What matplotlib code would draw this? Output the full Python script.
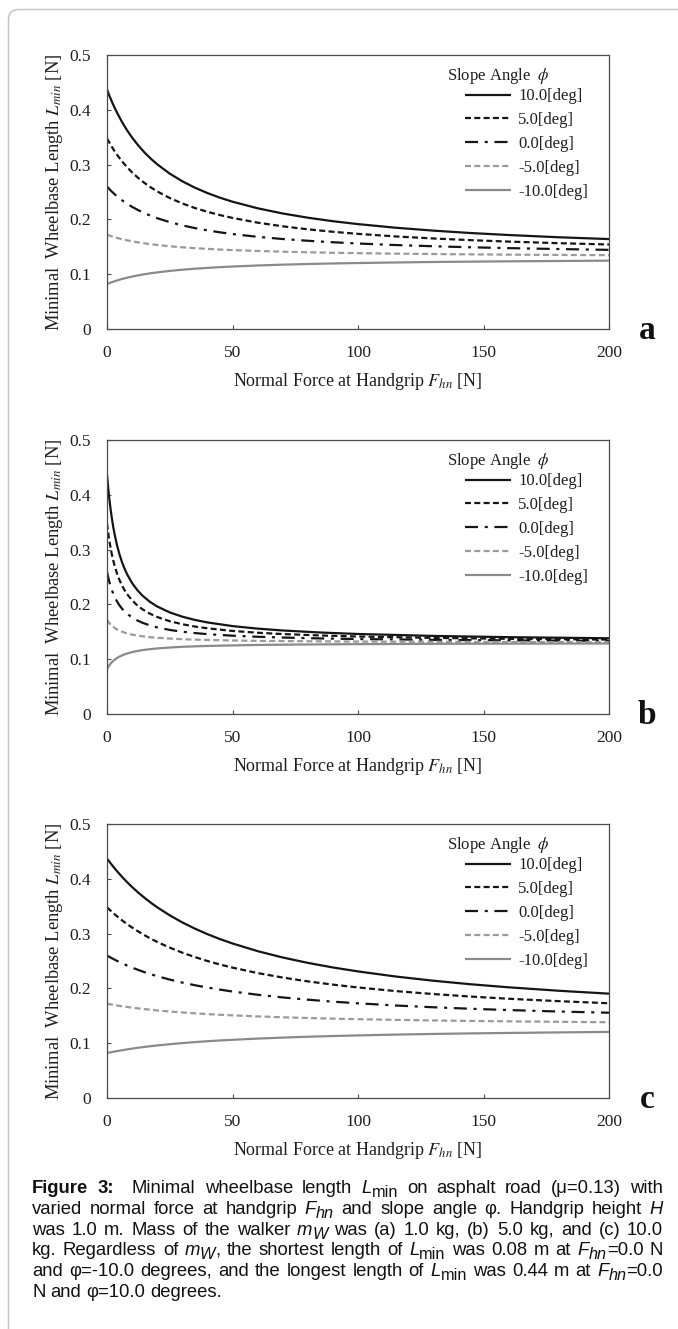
import re
import matplotlib
matplotlib.use("Agg")
import matplotlib.pyplot as plt
from matplotlib.patches import FancyBboxPatch
from matplotlib.transforms import IdentityTransform

plt.rcParams['font.family'] = ['Liberation Serif', 'DejaVu Serif']
plt.rcParams['mathtext.fontset'] = 'stix'
plt.rcParams['lines.scale_dashes'] = False

# ---------------- data ----------------
force_ac = [0, 1, 2, 3, 4, 6, 8, 10, 12.5, 15, 17.5, 20, 25, 30, 35, 40, 45, 50,
            60, 70, 80, 90, 100, 115, 130, 145, 160, 180, 200]
force_b = [0, 0.25, 0.5, 0.75, 1, 1.5, 2, 2.5, 3, 4, 5, 6, 7, 8, 10, 12, 14, 17,
           20, 25, 30, 35, 40, 50, 60, 70, 85, 100, 130, 160, 200]

# panel a  (m_w = 1.0 kg)
a_p10 = [0.4370, 0.4252, 0.4143, 0.4041, 0.3947, 0.3776, 0.3626, 0.3493, 0.3347, 0.3219,
         0.3106, 0.3006, 0.2835, 0.2696, 0.2579, 0.2481, 0.2396, 0.2323, 0.2203, 0.2108,
         0.2031, 0.1967, 0.1914, 0.1848, 0.1795, 0.1751, 0.1715, 0.1674, 0.1641]
a_p5 = [0.3480, 0.3396, 0.3319, 0.3246, 0.3179, 0.3058, 0.2952, 0.2857, 0.2753, 0.2663,
        0.2582, 0.2511, 0.2390, 0.2291, 0.2208, 0.2139, 0.2079, 0.2027, 0.1941, 0.1874,
        0.1819, 0.1774, 0.1736, 0.1689, 0.1652, 0.1621, 0.1595, 0.1566, 0.1542]
a_0 = [0.2600, 0.2550, 0.2504, 0.2461, 0.2421, 0.2348, 0.2285, 0.2229, 0.2167, 0.2113,
       0.2065, 0.2022, 0.1950, 0.1891, 0.1842, 0.1800, 0.1764, 0.1733, 0.1682, 0.1642,
       0.1610, 0.1583, 0.1560, 0.1532, 0.1510, 0.1491, 0.1476, 0.1459, 0.1444]
a_m5 = [0.1720, 0.1704, 0.1689, 0.1675, 0.1662, 0.1639, 0.1618, 0.1600, 0.1580, 0.1563,
        0.1547, 0.1533, 0.1510, 0.1491, 0.1475, 0.1462, 0.1450, 0.1440, 0.1424, 0.1411,
        0.1400, 0.1391, 0.1384, 0.1375, 0.1368, 0.1362, 0.1357, 0.1351, 0.1347]
a_m10 = [0.0820, 0.0838, 0.0856, 0.0871, 0.0886, 0.0913, 0.0936, 0.0957, 0.0980, 0.1000,
         0.1018, 0.1033, 0.1060, 0.1082, 0.1100, 0.1115, 0.1129, 0.1140, 0.1159, 0.1174,
         0.1186, 0.1196, 0.1204, 0.1214, 0.1223, 0.1229, 0.1235, 0.1241, 0.1247]

# panel b  (m_w = 5.0 kg)
b_p10 = [0.4370, 0.4237, 0.4114, 0.4002, 0.3898, 0.3712, 0.3551, 0.3411, 0.3287, 0.3077,
         0.2908, 0.2768, 0.2651, 0.2551, 0.2389, 0.2265, 0.2166, 0.2050, 0.1962, 0.1854,
         0.1776, 0.1717, 0.1671, 0.1604, 0.1558, 0.1524, 0.1487, 0.1460, 0.1425, 0.1402,
         0.1382]
b_p5 = [0.3480, 0.3385, 0.3298, 0.3218, 0.3145, 0.3013, 0.2899, 0.2799, 0.2711, 0.2562,
        0.2442, 0.2343, 0.2259, 0.2188, 0.2074, 0.1985, 0.1915, 0.1833, 0.1770, 0.1693,
        0.1638, 0.1596, 0.1564, 0.1516, 0.1483, 0.1459, 0.1433, 0.1414, 0.1389, 0.1372,
        0.1358]
b_0 = [0.2600, 0.2544, 0.2492, 0.2444, 0.2400, 0.2321, 0.2253, 0.2194, 0.2141, 0.2053,
       0.1981, 0.1922, 0.1872, 0.1830, 0.1761, 0.1709, 0.1667, 0.1618, 0.1580, 0.1534,
       0.1501, 0.1477, 0.1457, 0.1429, 0.1409, 0.1395, 0.1379, 0.1368, 0.1353, 0.1343,
       0.1335]
b_m5 = [0.1720, 0.1702, 0.1685, 0.1670, 0.1655, 0.1630, 0.1608, 0.1589, 0.1572, 0.1543,
        0.1520, 0.1501, 0.1485, 0.1471, 0.1449, 0.1432, 0.1419, 0.1403, 0.1391, 0.1376,
        0.1365, 0.1357, 0.1351, 0.1342, 0.1335, 0.1331, 0.1326, 0.1322, 0.1317, 0.1314,
        0.1311]
b_m10 = [0.0820, 0.0841, 0.0860, 0.0878, 0.0894, 0.0923, 0.0948, 0.0970, 0.0989, 0.1022,
         0.1049, 0.1070, 0.1089, 0.1104, 0.1130, 0.1149, 0.1165, 0.1183, 0.1196, 0.1213,
         0.1226, 0.1235, 0.1242, 0.1252, 0.1260, 0.1265, 0.1271, 0.1275, 0.1281, 0.1284,
         0.1287]

# panel c  (m_w = 10.0 kg)
c_p10 = [0.4370, 0.4309, 0.4250, 0.4193, 0.4138, 0.4035, 0.3939, 0.3850, 0.3746, 0.3651,
         0.3562, 0.3480, 0.3333, 0.3204, 0.3091, 0.2990, 0.2900, 0.2820, 0.2680, 0.2564,
         0.2466, 0.2382, 0.2310, 0.2217, 0.2140, 0.2075, 0.2020, 0.1957, 0.1904]
c_p5 = [0.3480, 0.3436, 0.3395, 0.3354, 0.3316, 0.3242, 0.3174, 0.3111, 0.3037, 0.2969,
        0.2906, 0.2848, 0.2744, 0.2652, 0.2572, 0.2500, 0.2436, 0.2379, 0.2280, 0.2198,
        0.2128, 0.2069, 0.2017, 0.1951, 0.1897, 0.1851, 0.1811, 0.1767, 0.1729]
c_0 = [0.2600, 0.2574, 0.2549, 0.2525, 0.2502, 0.2458, 0.2418, 0.2380, 0.2336, 0.2295,
       0.2258, 0.2223, 0.2161, 0.2106, 0.2058, 0.2016, 0.1978, 0.1943, 0.1884, 0.1835,
       0.1794, 0.1758, 0.1728, 0.1688, 0.1656, 0.1628, 0.1605, 0.1578, 0.1556]
c_m5 = [0.1720, 0.1712, 0.1704, 0.1696, 0.1688, 0.1674, 0.1661, 0.1649, 0.1635, 0.1622,
        0.1610, 0.1598, 0.1578, 0.1561, 0.1545, 0.1531, 0.1519, 0.1508, 0.1489, 0.1473,
        0.1460, 0.1448, 0.1438, 0.1426, 0.1415, 0.1406, 0.1399, 0.1390, 0.1383]
c_m10 = [0.0820, 0.0830, 0.0839, 0.0848, 0.0856, 0.0872, 0.0887, 0.0901, 0.0918, 0.0933,
         0.0946, 0.0959, 0.0982, 0.1002, 0.1020, 0.1036, 0.1050, 0.1062, 0.1084, 0.1102,
         0.1118, 0.1131, 0.1142, 0.1157, 0.1169, 0.1179, 0.1187, 0.1197, 0.1206]

series_labels = ["10.0[deg]", "5.0[deg]", "0.0[deg]", "-5.0[deg]", "-10.0[deg]"]
panel_letters = ["a", "b", "c"]
x_ticks = [0, 50, 100, 150, 200]
y_ticks = [0, 0.1, 0.2, 0.3, 0.4, 0.5]
y_tick_labels = ["0", "0.1", "0.2", "0.3", "0.4", "0.5"]

# caption markup: *x* = italic, _{..} = subscript, **..** words = bold
caption_lines = [
    "**Figure** **3:**  Minimal wheelbase length *L*_{min} on asphalt road (\u03bc=0.13) with",
    "varied normal force at handgrip *F*_{*hn*} and slope angle \u03c6. Handgrip height *H*",
    "was 1.0 m. Mass of the walker *m*_{*W*} was (a) 1.0 kg, (b) 5.0 kg, and (c) 10.0",
    "kg. Regardless of *m*_{*W*}, the shortest length of *L*_{min} was 0.08 m at *F*_{*hn*}=0.0 N",
    "and \u03c6=-10.0 degrees, and the longest length of *L*_{min} was 0.44 m at *F*_{*hn*}=0.0",
    "N and \u03c6=10.0 degrees.",
]

panels = [
    (force_ac, [a_p10, a_p5, a_0, a_m5, a_m10]),
    (force_b, [b_p10, b_p5, b_0, b_m5, b_m10]),
    (force_ac, [c_p10, c_p5, c_0, c_m5, c_m10]),
]

# ---------------- styling ----------------
W, H = 678, 1329
colors = ['#151515', '#151515', '#151515', '#9a9a9a', '#8a8a8a']
styles = ['-', (0, (4.3, 2.4)), (0, (9.4, 4.8, 2.2, 4.8)), (0, (4.3, 2.4)), '-']
spine_col = '#4a4a4a'
text_col = '#1e1e1e'

fig = plt.figure(figsize=(W / 100, H / 100), dpi=100)
fig.patch.set_facecolor('white')

# outer rounded frame (only top/left edges visible)
frame = FancyBboxPatch((8.5, -200), 1200, (H - 9.5) + 200,
                       boxstyle="round,pad=0,rounding_size=10",
                       transform=IdentityTransform(), fill=False,
                       edgecolor='#c4c4c4', linewidth=1.1)
fig.add_artist(frame)

ax_px = [(107, 55, 609, 329), (107, 440, 609, 714), (107, 824, 609, 1098)]

for (xs, ys_list), (l, t, r, b), letter in zip(panels, ax_px, panel_letters):
    ax = fig.add_axes([l / W, 1 - b / H, (r - l) / W, (b - t) / H])
    for ys, c, ls, lab in zip(ys_list, colors, styles, series_labels):
        ax.plot(xs, ys, color=c, linestyle=ls, linewidth=1.6, label=lab,
                solid_capstyle='butt', dash_capstyle='butt',
                solid_joinstyle='round')
    ax.set_xlim(0, 200)
    ax.set_ylim(0, 0.5)
    ax.set_xticks(x_ticks)
    ax.set_yticks(y_ticks)
    ax.set_yticklabels(y_tick_labels)
    ax.tick_params(direction='in', length=3, width=0.8, color=spine_col,
                   pad=11.5, labelsize=12.5, labelcolor=text_col)
    for sp in ax.spines.values():
        sp.set_color(spine_col)
        sp.set_linewidth(0.9)
    ax.set_xlabel("Normal Force at Handgrip $F_{hn}$ [N]", fontsize=13,
                  color=text_col)
    ax.xaxis.set_label_coords(0.5, -0.155)
    ax.set_ylabel("Minimal  Wheelbase Length $L_{min}$ [N]", fontsize=13.3,
                  color=text_col)
    ax.yaxis.set_label_coords(-0.084, 0.5)

    ax.text(0.677, 0.925, "Slope Angle  $\\phi$", transform=ax.transAxes,
            ha='left', va='center', fontsize=12, color=text_col)
    leg = ax.legend(loc='upper left', bbox_to_anchor=(0.713, 0.878),
                    frameon=False, fontsize=12, handlelength=2.75,
                    handletextpad=0.45, labelspacing=0.47, borderpad=0,
                    borderaxespad=0)
    for txt in leg.get_texts():
        txt.set_color(text_col)

    fig.text(647 / W, 1 - (b + 10) / H, letter, ha='center', va='baseline',
             fontsize=24, fontweight='bold', color='#111111')

# ---------------- caption (justified) ----------------
renderer = fig.canvas.get_renderer()
cap_left, cap_right = 32, 663
base0, lead = 1193, 20.8
cap_fs = 13.3
sub_fs = cap_fs * 0.88
sub_drop = 4.0
space_px = cap_fs * 100 / 72 * 0.278
cap_family = ['Liberation Sans', 'DejaVu Sans']


def parse_word(word):
    bold = word.startswith('**') and word.endswith('**')
    if bold:
        return [(word[2:-2], 'normal', 'bold', False)]
    parts = []
    for m in re.finditer(r'_\{([^}]*)\}|\*([^*]+)\*|([^*_]+)', word):
        if m.group(1) is not None:
            inner = m.group(1)
            style = 'italic' if inner.startswith('*') else 'normal'
            parts.append((inner.strip('*'), style, 'normal', True))
        elif m.group(2) is not None:
            parts.append((m.group(2), 'italic', 'normal', False))
        else:
            parts.append((m.group(3), 'normal', 'normal', False))
    return parts


for i, line in enumerate(caption_lines):
    base_y = H - (base0 + i * lead)
    words = []
    for tok in line.split(' '):
        if tok == '':
            words.append(([], 0.0))
            continue
        pieces = []
        wsum = 0.0
        for text, style, weight, sub in parse_word(tok):
            t = fig.text(0, base_y - (sub_drop if sub else 0), text,
                         transform=IdentityTransform(), ha='left', va='baseline',
                         fontsize=sub_fs if sub else cap_fs, family=cap_family,
                         fontstyle=style, fontweight=weight, color='#111111')
            w = t.get_window_extent(renderer).width
            pieces.append((t, wsum))
            wsum += w
        words.append((pieces, wsum))
    ngaps = len(words) - 1
    total = sum(w for _, w in words)
    last = (i == len(caption_lines) - 1)
    if last or ngaps == 0:
        gap = space_px
    else:
        gap = max((cap_right - cap_left - total) / ngaps, 0.5 * space_px)
    x = cap_left
    for pieces, w in words:
        for t, off in pieces:
            t.set_x(x + off)
        x += w + gap

fig.savefig("out.png", dpi=100, facecolor='white')
